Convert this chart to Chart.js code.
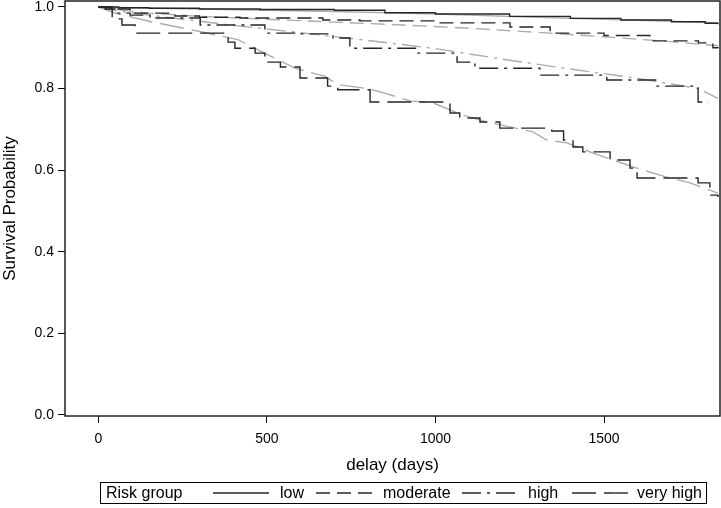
<!DOCTYPE html>
<html>
<head>
<meta charset="utf-8">
<script src="https://cdn.jsdelivr.net/npm/chart.js@4/dist/chart.umd.min.js"></script>
<style>
  html, body { margin: 0; padding: 0; background: #fff; }
  #wrap { position: relative; width: 721px; height: 508px; font-family: "Liberation Sans", Arial, sans-serif; }
  #legend { position: absolute; left: 100px; top: 482px; width: 607px; height: 22px; border: 1px solid #000; box-sizing: border-box; font-size: 16px; color: #000; }
  #legend span, #legend svg { position: absolute; top: 0; }
  #legend span { line-height: 20px; white-space: nowrap; }
  #legend svg { top: 9px; }
</style>
</head>
<body>
<div id="wrap">
  <canvas id="km" width="721" height="508"></canvas>
  <div id="legend"></div>
</div>
<script>
const lowObsDays = [0, 60, 150, 300, 480, 700, 850, 1000, 1220, 1400, 1550, 1700, 1800, 1838];
const lowObsSurv = [1.0, 0.998, 0.997, 0.995, 0.994, 0.992, 0.986, 0.983, 0.977, 0.972, 0.968, 0.964, 0.960, 0.958];
const lowPredDays = [0, 100, 300, 500, 700, 900, 1100, 1300, 1500, 1700, 1838];
const lowPredSurv = [1.0, 0.998, 0.995, 0.992, 0.989, 0.985, 0.980, 0.975, 0.970, 0.965, 0.961];

const modObsDays = [0, 35, 94, 227, 300, 420, 666, 776, 1000, 1221, 1340, 1500, 1636, 1780, 1823, 1838];
const modObsSurv = [1.0, 0.995, 0.985, 0.978, 0.975, 0.973, 0.968, 0.966, 0.961, 0.951, 0.936, 0.930, 0.917, 0.912, 0.900, 0.899];
const modPredDays = [0, 50, 150, 300, 500, 700, 900, 1100, 1300, 1500, 1700, 1838];
const modPredSurv = [1.0, 0.994, 0.985, 0.977, 0.970, 0.963, 0.956, 0.948, 0.938, 0.927, 0.915, 0.905];

const highObsDays = [0, 20, 50, 94, 153, 302, 494, 598, 696, 746, 945, 1064, 1117, 1310, 1508, 1657, 1779, 1810];
const highObsSurv = [1.0, 0.995, 0.985, 0.980, 0.973, 0.956, 0.936, 0.934, 0.924, 0.899, 0.887, 0.865, 0.850, 0.833, 0.821, 0.806, 0.767, 0.767];
const highPredDays = [0, 60, 200, 400, 600, 800, 1000, 1200, 1400, 1600, 1780, 1838];
const highPredSurv = [1.0, 0.990, 0.975, 0.955, 0.937, 0.918, 0.898, 0.872, 0.848, 0.825, 0.800, 0.776];

const vhObsDays = [0, 41, 70, 109, 385, 405, 465, 494, 540, 598, 680, 710, 806, 1043, 1072, 1132, 1191, 1345, 1380, 1408, 1437, 1518, 1577, 1598, 1779, 1814, 1838];
const vhObsSurv = [1.0, 0.971, 0.956, 0.936, 0.914, 0.899, 0.887, 0.865, 0.853, 0.826, 0.806, 0.797, 0.767, 0.740, 0.728, 0.718, 0.703, 0.696, 0.674, 0.657, 0.645, 0.625, 0.605, 0.581, 0.569, 0.539, 0.534];
const vhPredDays = [0, 50, 150, 300, 414, 509, 583, 672, 709, 797, 844, 924, 993, 1043, 1081, 1153, 1289, 1330, 1390, 1467, 1586, 1686, 1755, 1814, 1838];
const vhPredSurv = [1.0, 0.985, 0.965, 0.940, 0.920, 0.880, 0.850, 0.830, 0.810, 0.800, 0.790, 0.770, 0.765, 0.748, 0.735, 0.718, 0.694, 0.674, 0.667, 0.642, 0.608, 0.583, 0.569, 0.551, 0.544];

const xTicks = [0, 500, 1000, 1500];
const yTicks = [0, 0.2, 0.4, 0.6, 0.8, 1.0];

const groupLabels = ['low', 'moderate', 'high', 'very high'];
const dashes = [[], [14, 7], [19, 6, 3, 6], [24, 8]];
const BLACK = '#262626', GREY = '#ababab';

const pts = (xs, ys) => xs.map((x, i) => ({ x, y: ys[i] }));
const obs = [[lowObsDays, lowObsSurv], [modObsDays, modObsSurv], [highObsDays, highObsSurv], [vhObsDays, vhObsSurv]];
const pred = [[lowPredDays, lowPredSurv], [modPredDays, modPredSurv], [highPredDays, highPredSurv], [vhPredDays, vhPredSurv]];

const datasets = [];
// 'before' in chart.js = go across first, then drop (km style)
obs.forEach((o, i) => datasets.push({
  label: groupLabels[i], data: pts(o[0], o[1]), borderColor: BLACK, borderWidth: 1.4,
  borderDash: dashes[i], stepped: 'before', pointRadius: 0, fill: false
}));
pred.forEach((p, i) => datasets.push({
  label: groupLabels[i] + ' (pred)', data: pts(p[0], p[1]), borderColor: GREY, borderWidth: 1.4,
  borderDash: dashes[i], tension: 0, pointRadius: 0, fill: false
}));

const framePlugin = {
  id: 'frame',
  afterDatasetsDraw(chart) {
    const { ctx, chartArea: a } = chart;
    ctx.save();
    ctx.strokeStyle = '#222';
    ctx.lineWidth = 1.5;
    ctx.strokeRect(a.left, a.top, a.right - a.left, a.bottom - a.top);
    ctx.restore();
  }
};

const font = { family: '"Liberation Sans", Arial, sans-serif', size: 14 };
const titleFont = { ...font, size: 17 };

new Chart(document.getElementById('km'), {
  type: 'line',
  data: { datasets },
  options: {
    responsive: false,
    animation: false,
    layout: { padding: { left: 0, top: 1, right: 1, bottom: 30 } },
    plugins: { legend: { display: false }, tooltip: { enabled: false } },
    scales: {
      x: {
        type: 'linear', min: -99, max: 1844,
        afterBuildTicks: s => { s.ticks = xTicks.map(v => ({ value: v })); },
        afterFit: s => { s.height = 62; s.paddingLeft = 0; s.paddingRight = 0; },
        ticks: { color: '#000', font, padding: 8, maxRotation: 0, callback: v => String(v) },
        grid: { drawOnChartArea: false, drawTicks: true, tickLength: 7, color: '#000' },
        border: { display: false },
        title: { display: true, text: 'delay (days)', color: '#000', font: titleFont, padding: { top: 0, bottom: 2 } }
      },
      y: {
        type: 'linear', min: -0.0025, max: 1.0147,
        afterBuildTicks: s => { s.ticks = yTicks.map(v => ({ value: v })); },
        afterFit: s => { s.width = 65; s.paddingTop = 0; s.paddingBottom = 0; },
        ticks: { color: '#000', font, padding: 4, callback: v => v.toFixed(1) },
        grid: { drawOnChartArea: false, drawTicks: true, tickLength: 7, color: '#000' },
        border: { display: false },
        title: { display: true, text: 'Survival Probability', color: '#000', font: titleFont, padding: { top: 0, bottom: 0 } }
      }
    }
  },
  plugins: [framePlugin]
});

// legend box drawn as html with svg line samples
const legend = document.getElementById('legend');
const place = (txt, left) => {
  const s = document.createElement('span');
  s.textContent = txt;
  s.style.left = left + 'px';
  legend.appendChild(s);
};
const sample = (dash, left) => {
  const ns = 'http://www.w3.org/2000/svg';
  const svg = document.createElementNS(ns, 'svg');
  svg.setAttribute('width', 56); svg.setAttribute('height', 2);
  svg.style.left = left + 'px';
  const ln = document.createElementNS(ns, 'line');
  ln.setAttribute('x1', 0); ln.setAttribute('x2', 56); ln.setAttribute('y1', 1); ln.setAttribute('y2', 1);
  ln.setAttribute('stroke', BLACK); ln.setAttribute('stroke-width', 1.4);
  if (dash.length) ln.setAttribute('stroke-dasharray', dash.join(' '));
  svg.appendChild(ln);
  legend.appendChild(svg);
};
place('Risk group', 5);
const sampleLeft = [112, 215, 361, 471];
const labelLeft = [179, 282, 427, 536];
groupLabels.forEach((g, i) => { sample(dashes[i], sampleLeft[i]); place(g, labelLeft[i]); });
</script>
</body>
</html>
